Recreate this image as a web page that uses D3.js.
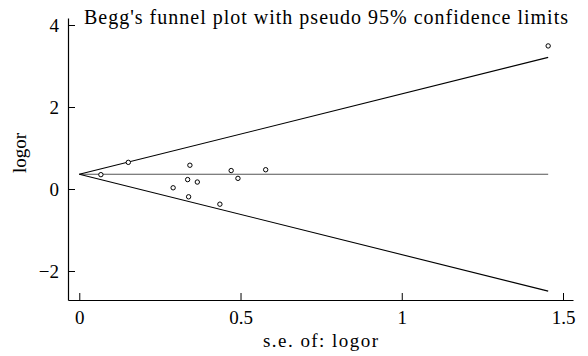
<!DOCTYPE html>
<html>
<head>
<meta charset="utf-8">
<script src="https://cdn.jsdelivr.net/npm/d3@7"></script>
<style>
  body { margin: 0; background: #fff; }
  svg { display: block; }
  svg text { font-family: "Liberation Serif", "Times New Roman", Times, "DejaVu Serif", serif; }
</style>
</head>
<body>
<div id="chart"></div>
<script>
// study standard errors and log odds ratios
const seValues    = [0.067, 0.152, 0.291, 0.336, 0.339, 0.343, 0.366, 0.436, 0.471, 0.492, 0.578, 1.454];
const logorValues = [0.35,  0.65,  0.03,  0.23, -0.19,  0.58,  0.17, -0.37,  0.45,  0.26,  0.47,  3.49];
const pooled = 0.36;      // fixed-effect estimate (horizontal line)
const seMax = 1.454;      // funnel drawn out to the largest s.e.
const xTicks = [0, 0.5, 1, 1.5];
const yTicks = [-2, 0, 2, 4];

const W = 588, H = 356;
const FONT = '"Liberation Serif", "Times New Roman", Times, "DejaVu Serif", serif';
const svg = d3.select('#chart').append('svg')
  .attr('width', W).attr('height', H);

// plot frame: axes sit at left=68, bottom=300
const x = d3.scaleLinear().domain([-0.035, 1.531]).range([68, 573]);
const y = d3.scaleLinear().domain([-2.707, 4.171]).range([300, 18]);

// ── axes ──
const xAxis = svg.append('g')
  .attr('transform', `translate(0,${y.range()[0]})`)
  .call(d3.axisBottom(x).tickValues(xTicks).tickSize(-7).tickSizeOuter(0).tickPadding(11)
    .tickFormat(d => d === 0 ? '0' : String(d)));
const yAxis = svg.append('g')
  .attr('transform', `translate(${x.range()[0]},0)`)
  .call(d3.axisLeft(y).tickValues(yTicks).tickSize(-7).tickSizeOuter(0).tickPadding(9)
    .tickFormat(d => d < 0 ? '\u2212' + Math.abs(d) : String(d)));

[xAxis, yAxis].forEach(a => {
  a.attr('font-family', FONT);
  a.select('.domain').attr('stroke', '#000').attr('stroke-width', 1.2);
  a.selectAll('.tick line').attr('stroke', '#000').attr('stroke-width', 1);
  a.selectAll('.tick text')
    .attr('font-family', FONT)
    .attr('font-size', 19).attr('fill', '#000');
});
yAxis.selectAll('.tick text').attr('dy', '0.35em');

// ── funnel lines ──
const line = d3.line().x(d => x(d[0])).y(d => y(d[1]));
const z = 1.96;
const funnel = [
  [[0, pooled], [seMax, pooled]],
  [[0, pooled], [seMax, pooled + z * seMax]],
  [[0, pooled], [seMax, pooled - z * seMax]]
];
svg.append('g').selectAll('path').data(funnel).join('path')
  .attr('d', line)
  .attr('fill', 'none')
  .attr('stroke', (d, i) => i === 0 ? '#555' : '#000')
  .attr('stroke-width', 1.1);

// ── studies ──
svg.append('g').selectAll('circle').data(seValues).join('circle')
  .attr('cx', d => x(d))
  .attr('cy', (d, i) => y(logorValues[i]))
  .attr('r', 2.2)
  .attr('fill', '#fff')
  .attr('stroke', '#000')
  .attr('stroke-width', 1);

// ── text ── (the original uses a loosely spaced serif, so stretch spacing to fit)
svg.append('text')
  .attr('x', 84).attr('y', 24)
  .attr('font-family', FONT)
  .attr('font-size', 20)
  .attr('textLength', 484).attr('lengthAdjust', 'spacing')
  .text("Begg's funnel plot with pseudo 95% confidence limits");

svg.append('text')
  .attr('x', 263).attr('y', 347)
  .attr('font-family', FONT)
  .attr('font-size', 19)
  .attr('textLength', 115).attr('lengthAdjust', 'spacing')
  .text('s.e. of: logor');

svg.append('text')
  .attr('transform', 'translate(26,173) rotate(-90)')
  .attr('font-family', FONT)
  .attr('font-size', 19)
  .attr('textLength', 40).attr('lengthAdjust', 'spacing')
  .text('logor');
</script>
</body>
</html>
